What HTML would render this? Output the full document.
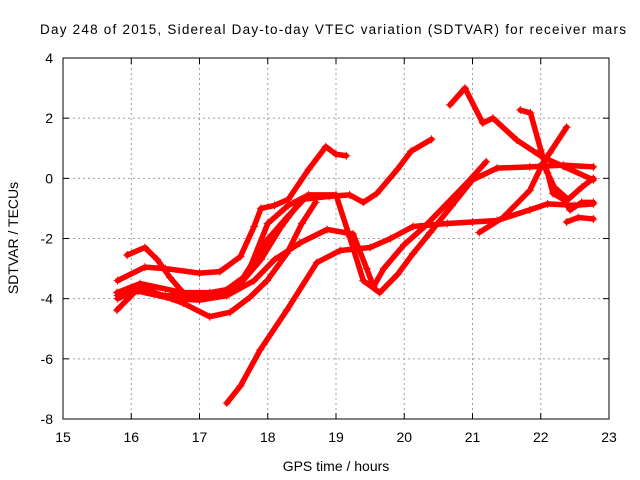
<!DOCTYPE html>
<html><head><meta charset="utf-8"><style>
body{margin:0;background:#fff;}
svg{display:block;font-family:"Liberation Sans",sans-serif;}
</style></head><body>
<svg id="chart" width="640" height="480">
<rect width="640" height="480" fill="#fff"/>
<g id="grid"></g><g id="axes"></g><g id="series"></g>
<text x="333" y="34" text-anchor="middle" font-size="13.5" textLength="586">Day 248 of 2015, Sidereal Day-to-day VTEC variation (SDTVAR) for receiver mars</text>
<text x="336" y="471" text-anchor="middle" font-size="14">GPS time / hours</text>
<text x="0" y="0" transform="translate(18,238) rotate(-90)" text-anchor="middle" font-size="14">SDTVAR / TECUs</text>
</svg>
<script>
const xTicks=[15,16,17,18,19,20,21,22,23];
const yTicks=[4,2,0,-2,-4,-6,-8];
const trackA=[[15.8,-3.4],[16.2,-2.95],[16.5,-3.0],[17.0,-3.15],[17.3,-3.1],[17.6,-2.6],[17.8,-1.6],[17.9,-1.0],[18.1,-0.9],[18.3,-0.7],[18.6,0.3],[18.85,1.05],[19.0,0.8],[19.15,0.75]];
const trackB=[[15.94,-2.55],[16.2,-2.3],[16.38,-2.7],[16.57,-3.3],[16.76,-3.8],[17.0,-3.95],[17.3,-3.85],[17.6,-3.5],[17.9,-2.7],[18.2,-1.6],[18.5,-0.7],[18.9,-0.6],[19.2,-0.55],[19.4,-0.8],[19.6,-0.5],[19.9,0.3],[20.1,0.9],[20.4,1.3]];
const trackC=[[15.8,-4.0],[16.1,-3.7],[16.5,-3.9],[17.0,-3.9],[17.4,-3.8],[17.7,-3.2],[18.0,-1.5],[18.3,-0.9],[18.6,-0.55],[19.0,-0.55],[19.2,-1.95],[19.4,-3.4],[19.64,-3.8],[19.9,-3.2],[20.13,-2.5],[20.38,-1.8],[20.7,-0.9],[21.0,-0.05],[21.36,0.34],[21.84,0.38],[22.33,0.44],[22.77,0.38]];
const trackD=[[15.8,-3.9],[16.1,-3.75],[16.6,-4.0],[17.0,-4.05],[17.4,-3.9],[17.8,-3.4],[18.1,-2.7],[18.47,-2.15],[18.87,-1.7],[19.25,-1.85],[19.45,-3.0],[19.55,-3.6],[19.7,-3.0],[20.0,-2.2],[20.3,-1.6],[20.6,-0.9],[20.9,-0.2],[21.2,0.55]];
const trackE=[[17.4,-7.47],[17.6,-6.9],[17.89,-5.7],[18.28,-4.38],[18.72,-2.8],[19.06,-2.4],[19.5,-2.3],[19.8,-2.0],[20.13,-1.6],[20.63,-1.5],[21.0,-1.45],[21.36,-1.4],[21.84,-1.05],[22.1,-0.85],[22.5,-0.9],[22.77,-0.85]];
const trackF=[[21.1,-1.8],[21.45,-1.3],[21.84,-0.4],[22.03,0.5],[22.2,-0.3],[22.4,-0.7],[22.6,-0.3],[22.77,0.0]];
const trackG=[[20.67,2.44],[20.89,3.0],[21.15,1.84],[21.3,2.0],[21.65,1.27],[22.03,0.7],[22.33,0.4],[22.77,-0.05]];
const trackH=[[21.7,2.27],[21.85,2.17],[22.0,0.95],[22.1,0.18],[22.18,-0.5],[22.33,-0.7],[22.43,-1.05],[22.6,-0.8],[22.77,-0.8]];
const trackI=[[22.38,1.7],[22.13,0.84],[22.03,0.5]];
const trackJ=[[22.38,-1.45],[22.55,-1.3],[22.77,-1.35]];
const trackL=[[15.79,-4.38],[16.13,-3.6],[16.52,-3.95],[16.76,-4.15],[17.15,-4.6],[17.45,-4.45],[17.74,-3.95],[17.99,-3.4],[18.28,-2.5],[18.5,-1.5],[18.7,-0.8]];
const trackM=[[15.79,-3.8],[16.13,-3.5],[16.76,-3.8],[17.15,-3.8],[17.4,-3.7],[17.64,-3.3],[17.99,-2.05],[18.28,-1.3],[18.57,-0.6]];
const tracks=[trackA,trackB,trackC,trackD,trackE,trackF,trackG,trackH,trackI,trackJ,trackL,trackM];
const X0=63,X1=609,Y0=58,Y1=419;
function xs(t){return X0+(t-15)/8*(X1-X0);}
function ys(v){return Y0+(4-v)/12*(Y1-Y0);}
const NS="http://www.w3.org/2000/svg";
function mk(tag,attrs,parent){const e=document.createElementNS(NS,tag);for(const k in attrs)e.setAttribute(k,attrs[k]);parent.appendChild(e);return e;}
const grid=document.getElementById('grid'),axes=document.getElementById('axes'),ser=document.getElementById('series');
xTicks.forEach(t=>{
  const x=xs(t);
  if(t>15&&t<23){const g=mk('line',{x1:x,x2:x,y1:Y0,y2:Y1,stroke:'#a0a0a0','stroke-dasharray':'2,3'},grid);
  
  }
  mk('line',{x1:x,x2:x,y1:Y1,y2:Y1-6,stroke:'#000'},axes);
  mk('line',{x1:x,x2:x,y1:Y0,y2:Y0+6,stroke:'#000'},axes);
  const l=mk('text',{x:x,y:Y1+23,'text-anchor':'middle','font-size':'14'},axes);l.textContent=t;
  
  
});
yTicks.forEach(v=>{
  const y=ys(v);
  if(v<4&&v>-8){const g=mk('line',{x1:X0,x2:X1,y1:y,y2:y,stroke:'#a0a0a0','stroke-dasharray':'2,3'},grid);
  
  }
  mk('line',{x1:X0,x2:X0+6,y1:y,y2:y,stroke:'#000'},axes);
  mk('line',{x1:X1,x2:X1-6,y1:y,y2:y,stroke:'#000'},axes);
  const l=mk('text',{x:X0-10,y:y+5,'text-anchor':'end','font-size':'14'},axes);l.textContent=v;
  
  
});
const fr=mk('rect',{x:X0,y:Y0,width:X1-X0,height:Y1-Y0,fill:'none',stroke:'#000'},axes);


tracks.forEach((tr,i)=>{
  const p=mk('polyline',{points:tr.map(d=>xs(d[0])+','+ys(d[1])).join(' '),fill:'none',stroke:'#f00','stroke-width':'5.5','stroke-linejoin':'round','stroke-linecap':'round'},ser);
  
  
  tr.forEach(d=>{
    const x=xs(d[0]),y=ys(d[1]);
    const m=mk('path',{d:`M${x-4},${y}H${x+4}M${x},${y-4}V${y+4}`,stroke:'#f00','stroke-width':'1'},ser);
    
    
  });
});
</script>
</body></html>
